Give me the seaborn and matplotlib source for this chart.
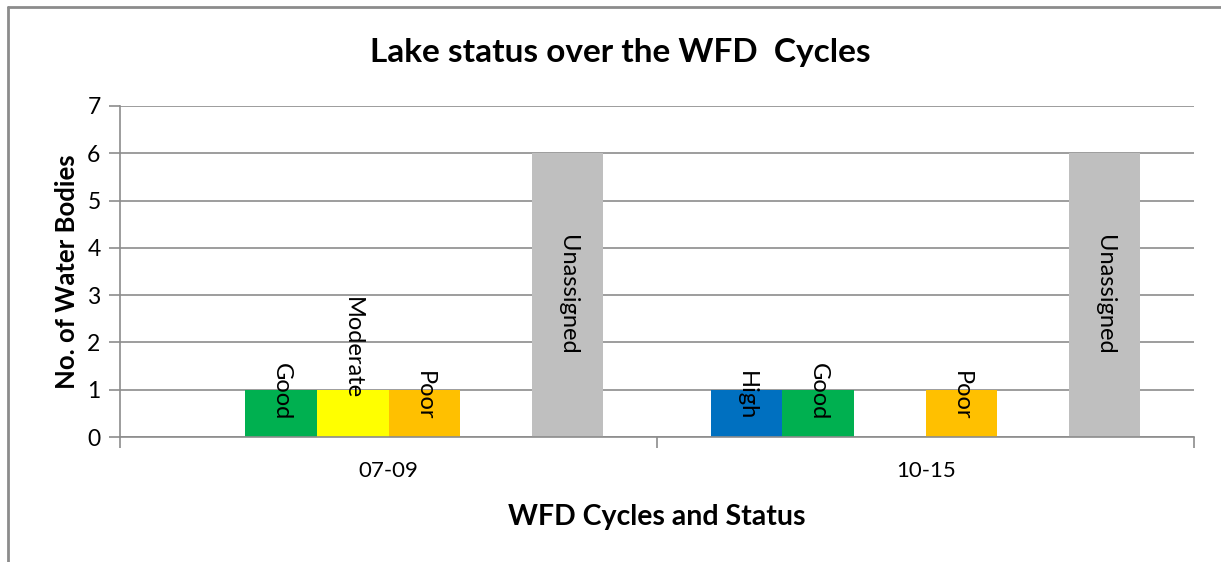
import matplotlib
matplotlib.use("Agg")
import matplotlib.pyplot as plt
import pandas as pd
import seaborn as sns
from matplotlib.lines import Line2D

# Data
cycles = ["07-09", "10-15"]
statuses = ["High", "Good", "Moderate", "Poor", "Bad", "Unassigned"]
counts_0709 = [0, 1, 1, 1, 0, 6]
counts_1015 = [1, 1, 0, 1, 0, 6]
status_colors = ["#0070C0", "#00B050", "#FFFF00", "#FFC000", "#FF0000", "#BFBFBF"]

df = pd.DataFrame({
    "Cycle": [c for c in cycles for _ in statuses],
    "Status": statuses * len(cycles),
    "Count": counts_0709 + counts_1015,
})

sns.set_style("white")
plt.rcParams["font.family"] = ["Lato", "DejaVu Sans"]
plt.rcParams["text.color"] = "black"
plt.rcParams["axes.labelcolor"] = "black"
plt.rcParams["xtick.labelcolor"] = "black"
plt.rcParams["ytick.labelcolor"] = "black"

fig = plt.figure(figsize=(12.21, 5.62), dpi=100)
ax = fig.add_axes([0.0983, 0.2224, 0.8797, 0.589])

sns.barplot(data=df, x="Cycle", y="Count", hue="Status", order=cycles,
            hue_order=statuses, palette=status_colors, width=0.8,
            saturation=1, legend=False, linewidth=0, ax=ax, zorder=2)

# rotated labels inside the bars
for container, status in zip(ax.containers, statuses):
    for bar in container:
        h = bar.get_height()
        if h <= 0:
            continue
        xc = bar.get_x() + bar.get_width() / 2
        if h >= 3:
            y, va = h / 2, "center"
        elif status == "Moderate":
            y, va = 0.8, "bottom"
        else:
            y, va = 0.35, "bottom"
        ax.text(xc, y, status, rotation=270, ha="center", va=va,
                fontsize=17, color="black", zorder=3)

ax.set_ylim(0, 7)
ax.set_xlim(-0.5, 1.5)
ax.set_yticks(range(0, 8))
ax.yaxis.grid(True, color="#8C8C8C", linewidth=1.2, zorder=0)
ax.set_axisbelow(True)

for side in ["top", "right"]:
    ax.spines[side].set_visible(False)
for side in ["left", "bottom"]:
    ax.spines[side].set_color("#8C8C8C")
    ax.spines[side].set_linewidth(1.2)

# ticks: y outward, x between categories
ax.tick_params(axis="y", left=True, direction="out", length=8, width=1.2,
               color="#8C8C8C", labelsize=16.5, pad=6)
ax.set_xticks([-0.5, 0.5, 1.5], minor=True)
ax.tick_params(axis="x", which="minor", bottom=True, direction="out", length=8,
               width=1.2, color="#8C8C8C")
ax.tick_params(axis="x", which="major", bottom=False, labelsize=16, pad=14)

ax.set_xlabel("WFD Cycles and Status", fontsize=20.5, fontweight="bold", labelpad=16)
ax.set_ylabel("No. of Water Bodies", fontsize=18.5, fontweight="bold", labelpad=6)

fig.text(0.508, 0.907, "Lake status over the WFD  Cycles", ha="center",
         va="center", fontsize=24, fontweight="bold")

# chart area frame (left and top edges visible)
fig.add_artist(Line2D([0.0065, 0.0065], [0, 0.988], transform=fig.transFigure,
                      color="#8C8C8C", linewidth=2))
fig.add_artist(Line2D([0.0065, 1], [0.988, 0.988], transform=fig.transFigure,
                      color="#8C8C8C", linewidth=2))

fig.savefig("out.png", dpi=100)
